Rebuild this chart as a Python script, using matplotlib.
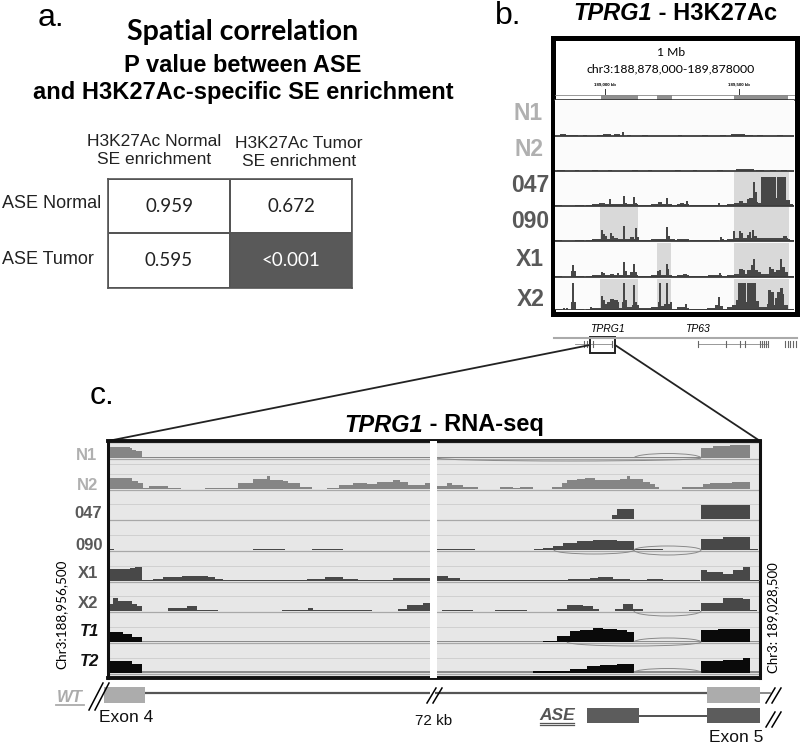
#!/usr/bin/env python3

import matplotlib
matplotlib.use('Agg')
import matplotlib.pyplot as plt
from matplotlib.patches import Arc, Rectangle

plt.rcParams['font.family'] = ['Liberation Sans', 'DejaVu Sans']

W, H = 800, 745

# panel a
row_labels = ['ASE Normal', 'ASE Tumor']
col_labels = ['H3K27Ac Normal\nSE enrichment', 'H3K27Ac Tumor\nSE enrichment']
p_values = [[0.959, 0.672], [0.595, 0.0005]]
p_text = [['0.959', '0.672'], ['0.595', '<0.001']]

# panel b: (position, width, height) of the peaks, window is 239 units wide
b_names = ['N1', 'N2', '047', '090', 'X1', 'X2']
b_base = [136, 171, 206.5, 241.5, 277.5, 310]
b_top = [100, 136.5, 172, 207.5, 243.5, 279]
b_shade = [[], [], [(179, 234)], [(45, 83), (179, 234)], [(102, 116), (179, 234)],
           [(45, 83), (102, 116), (179, 234)]]
b_n1 = [(8, 3, 1.5), (13, 4, 1), (20, 3, 1), (30, 2, 1), (45, 3, 1), (52, 4, 1.5), (62, 3, 1.5),
        (68, 1, 3.5), (74, 2, 1), (90, 3, 1), (125, 2, 1), (150, 3, 1), (168, 3, 1), (183, 8, 1.5),
        (194, 4, 1), (205, 3, 1), (225, 3, 1)]
b_n2 = [(6, 4, 1), (22, 2, 1), (40, 3, 1), (55, 2, 1), (80, 3, 1), (95, 2, 1), (123, 3, 1),
        (140, 2, 1), (165, 3, 1), (190, 10, 1.5), (205, 4, 1), (218, 3, 1), (229, 3, 1)]
b_047 = [(47, 3, 3), (55, 1.5, 7), (60, 3, 2), (69, 1.5, 10), (71, 1, 3), (79, 1.5, 9), (81, 1, 3),
         (105, 2, 4), (112, 1.5, 8), (125, 2, 2.5), (127, 2, 3), (132, 1.5, 5), (164, 1.5, 3),
         (186, 2, 5), (194, 2, 7), (196, 2, 8), (199, 1.5, 24), (200.5, 1.5, 14), (202, 1.5, 4),
         (205, 3, 3), (211, 6, 29), (215, 2, 20), (218, 3, 29), (222, 2, 8), (226, 5, 29),
         (230.5, 2, 5), (233, 2, 6), (236, 2, 2)]
b_090 = [(47, 1.5, 11), (48.5, 1.5, 7), (50, 2, 5), (53, 2, 2), (56, 1.5, 8), (57.5, 1.5, 5),
         (61, 2, 3), (63, 3, 2.5), (69, 1.5, 15), (71, 2, 2), (77, 2, 4), (81, 1.5, 13), (82.5, 1.5, 4),
         (90, 4, 1), (102, 2, 1.5), (112, 1.5, 14), (113.5, 1.5, 5), (118, 2, 2), (147, 3, 1.5),
         (166, 1.5, 4), (167.5, 1.5, 2), (179, 1.5, 10), (185, 1.5, 10), (186.5, 1.5, 8), (188, 2, 3),
         (193, 1.5, 6), (195, 1.5, 9), (198, 1.5, 11), (200, 2, 5), (203, 2, 1.5), (227, 5, 3), (230, 2, 5),
         (233, 2, 2)]
b_x1 = [(17, 1, 6), (18, 1.5, 12), (20, 1.5, 6), (47, 1.5, 5), (48.5, 2, 4), (52, 3, 2), (57, 2, 3),
        (60, 3, 2), (63, 1.5, 4), (66, 2, 2), (69, 1.5, 15), (70.5, 1.5, 6), (73, 3, 2), (77, 2, 5), (79, 1.5, 13),
        (81, 1.5, 5), (103, 1.5, 6), (105, 1.5, 7), (112, 1.5, 13), (113, 1.5, 8), (125, 2, 2),
        (130, 2, 3), (134, 6, 1.5), (160, 8, 2), (165, 1.5, 4), (186, 2, 8), (188, 2, 7), (190, 3, 3),
        (194, 2, 7), (197, 1.5, 12), (199, 1.5, 18), (201, 2, 7), (204, 2, 5), (208, 2, 3), (215, 1.5, 10),
        (217.5, 2, 8), (220, 2, 5), (223, 2, 7), (226, 1.5, 18), (228, 2, 10), (231, 2, 5)]
b_x2 = [(9, 1, 2), (12, 1, 2), (17, 1, 8), (18, 1.5, 27), (20, 1.5, 8), (36, 1, 3), (47, 1.5, 14),
        (48.5, 1.5, 10), (50, 2, 6), (52, 2, 3), (54, 2, 8), (57, 2, 11), (59.5, 1.5, 3), (61, 2, 10), (63, 1.5, 8),
        (65, 2, 2), (68, 1, 8), (69, 1.5, 27), (70.5, 1.5, 10), (72, 2, 3), (78, 1, 5), (79, 1.5, 25),
        (81, 1.5, 8), (82.5, 1.5, 5), (93, 3, 1.5), (104, 1, 8), (105, 1.5, 27), (107, 2, 4), (110, 1, 6),
        (112, 1.5, 27), (114, 2, 6), (116, 1.5, 8), (125, 3, 2.5), (128, 2, 3), (131, 1.5, 6), (162, 2, 5),
        (164, 1.5, 13), (166, 2, 4), (180, 3, 5), (183, 2, 10), (187, 4, 27), (191, 2, 8), (196, 5, 27),
        (202, 2, 9), (205, 3, 3), (213, 1.5, 6), (214.5, 1.5, 20), (217, 2, 18), (220, 2, 5), (222, 2, 12), (224, 2, 18),
        (226.5, 1.5, 22), (228, 1.5, 16), (231, 2, 5)]
b_peaks = [b_n1, b_n2, b_047, b_090, b_x1, b_x2]
# low background seen under tracks 047 to X2
b_low = [(3, 4, 1), (24, 5, 1), (35, 5, 1.2), (44, 8, 2.2), (52, 8, 2.2), (60, 9, 2), (70, 8, 2), (78, 6, 2.5),
         (86, 7, 1.5), (97, 6, 1.2), (103, 8, 2.5), (111, 7, 2.5), (120, 7, 1.2), (128, 7, 2), (140, 6, 1.2),
         (150, 7, 1.2), (158, 7, 1.5), (170, 6, 1.2), (178, 7, 2.5), (186, 8, 3), (194, 9, 3.5), (204, 7, 3),
         (211, 8, 3), (220, 7, 3), (228, 6, 3), (235, 4, 1)]

cyto_bands = [(601, 638), (657, 672), (734, 788)]
tp63_ticks = [698, 726, 740, 745, 760, 762, 764, 766, 768, 785, 788, 790, 793, 796]
tprg1_ticks = [584, 587, 593, 612]

# panel c: (start, end, height) of the coverage steps, window is 652 units wide
c_names = ['N1', 'N2', '047', '090', 'X1', 'X2', 'T1', 'T2']
c_base = [458, 489, 519, 550, 580.5, 611, 642, 672.5]
c_label_y = [456, 485, 514, 545, 573, 603, 632, 662]
c_n1 = [(2, 9, 11), (9, 17, 11.5), (17, 22, 11), (22, 24, 10), (24, 28, 8.5), (28, 34, 7.5), (34, 322, 1),
        (329, 593, 1.5), (593, 605, 10), (605, 622, 12), (622, 642, 13.5), (642, 652, 0.5)]
c_n2 = [(2, 24, 11), (24, 28, 8), (28, 30, 8.5), (30, 35, 6), (35, 41, 1.5), (41, 60, 3), (60, 73, 1.5),
        (97, 130, 1.5), (130, 145, 6), (145, 159, 10.5), (159, 162, 13), (162, 175, 9.5), (175, 180, 8.5),
        (180, 192, 6), (192, 204, 2), (219, 231, 1.5), (231, 245, 4), (245, 259, 6), (259, 269, 5.5),
        (269, 277, 7), (277, 285, 7.5), (285, 292, 9.5), (292, 300, 7.5), (300, 317, 4), (317, 322, 6),
        (329, 339, 3), (339, 344, 6), (344, 355, 4.5), (355, 370, 2.5), (370, 392, 0.5), (392, 405, 2.5),
        (405, 412, 1), (412, 425, 2.5), (425, 444, 0.5), (444, 454, 2.5), (454, 459, 6), (459, 469, 9),
        (469, 477, 10), (477, 487, 11), (487, 499, 9), (499, 512, 9.5), (512, 519, 10), (519, 522, 13),
        (522, 535, 10), (535, 542, 7), (542, 547, 5), (547, 551, 2.5), (574, 595, 2.5), (595, 602, 5),
        (602, 624, 6), (624, 639, 7.5), (639, 642, 7)]
c_047 = [(504, 509, 4.5), (509, 526, 10), (593, 642, 14.5)]
c_090 = [(2, 6, 1), (145, 177, 1.5), (204, 235, 1.5), (329, 367, 0.7), (426, 435, 1), (435, 445, 2.5),
         (445, 455, 4), (455, 469, 7), (469, 485, 9.5), (485, 509, 10), (509, 526, 9), (526, 539, 1),
         (539, 555, 1.5), (593, 615, 11), (615, 642, 13.5), (642, 650, 1)]
c_x1 = [(2, 22, 12), (22, 27, 13), (27, 34, 13.5), (34, 45, 0.5), (45, 55, 2), (55, 74, 3.5), (74, 82, 4.5),
        (82, 100, 5), (100, 107, 3.5), (107, 115, 1.5), (115, 135, 0.5), (135, 169, 1), (169, 199, 0.5),
        (199, 217, 1.5), (217, 235, 3.5), (235, 250, 2), (250, 259, 0.5), (259, 285, 1), (285, 322, 3),
        (329, 340, 4.5), (340, 352, 3), (352, 362, 1), (362, 460, 0.5), (460, 482, 1.5), (482, 490, 3),
        (490, 505, 4), (505, 522, 2), (522, 539, 1), (539, 555, 2), (555, 592, 1), (593, 599, 11),
        (599, 615, 8.5), (615, 625, 7), (625, 635, 11), (635, 642, 14), (642, 652, 0.5)]
c_x2 = [(2, 5, 7), (5, 10, 13), (10, 24, 10), (24, 29, 7.5), (29, 34, 5.5), (60, 79, 3), (79, 89, 5),
        (89, 110, 1.5), (174, 200, 1), (200, 205, 3), (205, 264, 1.5), (290, 299, 2.5), (299, 315, 6),
        (315, 322, 8), (334, 365, 0.7), (387, 419, 0.7), (449, 459, 2), (459, 475, 6), (475, 485, 5),
        (485, 491, 2.5), (507, 515, 2.5), (515, 525, 7), (525, 535, 2.5), (581, 592, 1), (593, 615, 8),
        (615, 635, 13), (635, 642, 12), (642, 649, 1.5)]
c_t1 = [(2, 15, 10), (15, 24, 8.5), (24, 34, 5.5), (435, 449, 1.5), (449, 462, 6), (462, 472, 11),
        (472, 485, 12.5), (485, 495, 14.5), (495, 509, 13.5), (509, 519, 12.5), (519, 526, 10.5),
        (593, 610, 12), (610, 642, 13)]
c_t2 = [(2, 24, 12), (24, 34, 9), (425, 462, 1.5), (462, 479, 4), (479, 492, 7), (492, 509, 7.5),
        (509, 526, 9), (593, 615, 12), (615, 635, 13), (635, 642, 14.5)]
c_tracks = [c_n1, c_n2, c_047, c_090, c_x1, c_x2, c_t1, c_t2]
c_thin = [0, 0, 0, 0, 0, 0, 1.5, 1.5]
# (track, start, end, height), a negative height goes under the baseline
c_arcs = [(0, 526, 593, 4.5), (0, 329, 593, -3), (3, 446, 526, -4), (3, 526, 593, 4), (3, 526, 593, -5),
          (5, 526, 593, -5), (6, 526, 593, 4), (6, 459, 593, -4), (7, 526, 593, 4)]

wt_exons = [(104, 145), (707, 760)]
ase_exons = [(587, 639), (707, 760)]


def px_axes(fig, x0, y0, x1, y1, **kw):
    return fig.add_axes([x0 / W, 1 - y1 / H, (x1 - x0) / W, (y1 - y0) / H], **kw)


fig = plt.figure(figsize=(W / 100, H / 100), dpi=100)

# background layer for text and lines, in pixels
bg = fig.add_axes([0, 0, 1, 1])
bg.set_xlim(0, W)
bg.set_ylim(H, 0)
bg.axis('off')

bg.text(38, 18, 'a.', fontsize=23, va='center')
bg.text(495, 16, 'b.', fontsize=23, va='center')
bg.text(90, 396, 'c.', fontsize=23, va='center')

bg.text(243, 32, 'Spatial correlation', fontsize=20.5, fontweight='bold', family='Lato', ha='center', va='center')
bg.text(243, 65, 'P value between ASE', fontsize=17, fontweight='bold', ha='center', va='center')
bg.text(243, 93, 'and H3K27Ac-specific SE enrichment', fontsize=17, fontweight='bold', ha='center', va='center')

# panel a table
ax_a = px_axes(fig, 108, 179, 352, 288)
cell_colors = [[0 if v > 0.001 else 1 for v in row] for row in p_values]
ax_a.pcolormesh(cell_colors, cmap=matplotlib.colors.ListedColormap(['white', '#595959']),
                edgecolors='#555555', linewidth=1.2)
ax_a.set_ylim(2, 0)
ax_a.set_xticks([])
ax_a.set_yticks([])
for s in ax_a.spines.values():
    s.set_color('#555555')
    s.set_linewidth(1.2)
for i, row in enumerate(p_text):
    for j, t in enumerate(row):
        ax_a.text(j + 0.5, i + 0.5, t, ha='center', va='center', fontsize=13.5, family='Lato',
                  color='white' if p_values[i][j] < 0.001 else '#222222')
bg.text(2, 203, row_labels[0], fontsize=13, va='center', color='#222222')
bg.text(2, 259, row_labels[1], fontsize=13, va='center', color='#222222')
bg.text(154, 150, col_labels[0], fontsize=12.5, ha='center', va='center', color='#222222', linespacing=1.25)
bg.text(299, 153, col_labels[1], fontsize=12.5, ha='center', va='center', color='#222222', linespacing=1.25)

# panel b
bg.text(652, 14, 'TPRG1', fontsize=17, fontweight='bold', fontstyle='italic', ha='right', va='center')
bg.text(652, 14, ' - H3K27Ac', fontsize=17, fontweight='bold', ha='left', va='center')

bg.add_patch(Rectangle((552.5, 37.5), 244, 276, fc='white', ec='black', lw=3.6, zorder=3))
bg.text(671, 53, '1 Mb', fontsize=8.7, family='Lato', ha='center', va='center', zorder=4)
bg.text(671, 69, 'chr3:188,878,000-189,878000', fontsize=8.8, family='Lato', ha='center', va='center', zorder=4)
for x, t in [(605, '189,000 kb'), (739, '189,500 kb')]:
    bg.text(x, 84, t, fontsize=3.2, fontweight='bold', ha='center', va='center', zorder=4)
    bg.plot([x, x], [89, 94], color='#333333', lw=0.7, zorder=4)
for x0, x1 in cyto_bands:
    bg.add_patch(Rectangle((x0, 94.5), x1 - x0, 5, fc='#8f8f8f', ec='none', zorder=4))
bg.plot([555, 794], [94.5, 94.5], color='#888888', lw=0.6, zorder=4)
bg.plot([555, 794], [100, 100], color='#333333', lw=1.2, zorder=4)

ax_b = px_axes(fig, 555, 100, 794, 310.5)
ax_b.set_xlim(0, 239)
ax_b.set_ylim(310.5, 100)
ax_b.set_facecolor('#fbfbfb')
ax_b.set_xticks([])
ax_b.set_yticks([])
for s in ax_b.spines.values():
    s.set_visible(False)
for i, (base, top, shade, peaks) in enumerate(zip(b_base, b_top, b_shade, b_peaks)):
    for x0, x1 in shade:
        ax_b.add_patch(Rectangle((x0, top), x1 - x0, base - top, fc='#d9d9d9', ec='none'))
    all_peaks = peaks + b_low if i > 1 else peaks
    ax_b.bar([p[0] for p in all_peaks], [-p[2] for p in all_peaks], width=[p[1] * 1.8 for p in all_peaks],
             bottom=base, color='#474747', lw=0, zorder=2)
    ax_b.axhline(base, color='#3c3c3c', lw=1.3, zorder=3)

b_label_y = [114, 150, 185, 222, 259, 300]
b_label_x = [543, 543, 549, 549, 544, 545]
b_label_c = ['#b0b0b0', '#b0b0b0', '#595959', '#595959', '#595959', '#595959']
for name, x, y, c in zip(b_names, b_label_x, b_label_y, b_label_c):
    bg.text(x, y, name, fontsize=16.5, fontweight='bold', color=c, ha='right', va='center')

# gene track under panel b
bg.plot([554, 797], [338, 338], color='#aaaaaa', lw=1.5)
bg.text(607, 329, 'TPRG1', fontsize=7.5, fontstyle='italic', ha='center', va='center')
bg.text(697, 329, 'TP63', fontsize=7.5, fontstyle='italic', ha='center', va='center')
bg.plot([575, 612], [344, 344], color='#888888', lw=0.6)
bg.plot([698, 768], [344, 344], color='#888888', lw=0.6)
for x in tprg1_ticks + tp63_ticks:
    bg.plot([x, x], [341, 347], color='#666666', lw=0.8)
bg.add_patch(Rectangle((590, 337), 25, 16, fc='none', ec='#222222', lw=1.4))
bg.plot([590, 108], [345, 441], color='#222222', lw=1.3)
bg.plot([615, 760], [345, 441], color='#222222', lw=1.3)

# panel c
bg.text(423, 425, 'TPRG1', fontsize=17, fontweight='bold', fontstyle='italic', ha='right', va='center')
bg.text(423, 425, ' - RNA-seq', fontsize=17, fontweight='bold', ha='left', va='center')

ax_c = px_axes(fig, 108, 441, 760, 678)
ax_c.set_xlim(0, 652)
ax_c.set_ylim(678, 441)
ax_c.set_facecolor('#e7e7e7')
ax_c.set_xticks([])
ax_c.set_yticks([])
for s in ax_c.spines.values():
    s.set_color('#111111')
    s.set_linewidth(2.2)
ax_c.spines['top'].set_linewidth(2.8)
ax_c.spines['bottom'].set_linewidth(2.8)
colors_c = ['#858585', '#858585', '#484848', '#484848', '#484848', '#484848', '#0a0a0a', '#0a0a0a']
for i, (base, segs, c) in enumerate(zip(c_base, c_tracks, colors_c)):
    ax_c.axhline(base - 15, color='#d0d0d0', lw=0.7, zorder=1)
    ax_c.axhline(base + 1, color='#a8a8a8', lw=0.9, zorder=1)
    if c_thin[i]:
        ax_c.bar(0, -c_thin[i], width=652, bottom=base, align='edge', color='#8c8c8c', lw=0, zorder=2)
    ax_c.bar([s[0] for s in segs], [-s[2] for s in segs], width=[s[1] - s[0] for s in segs],
             bottom=base, align='edge', color=c, lw=0, zorder=3)
ax_c.axhline(464, color='#cfcfcf', lw=0.7, zorder=1)
for trk, x0, x1, h in c_arcs:
    t1, t2 = (180, 360) if h > 0 else (0, 180)
    ax_c.add_patch(Arc(((x0 + x1) / 2, c_base[trk]), x1 - x0, 2 * abs(h), theta1=t1, theta2=t2,
                       color='#8a8a8a', lw=0.7, zorder=4))
# white break in the middle of the window
ax_c.axvspan(322, 329, color='white', lw=0, zorder=5)

c_label_x = [97, 98, 102, 103, 98, 98, 99, 99]
c_label_c = ['#b0b0b0', '#b0b0b0', '#595959', '#595959', '#595959', '#595959', '#111111', '#111111']
for i, name in enumerate(c_names):
    bg.text(c_label_x[i], c_label_y[i], name, fontsize=12, fontweight='bold', color=c_label_c[i],
            ha='right', va='center', fontstyle='italic' if name.startswith('T') else 'normal')

bg.text(62, 614, 'Chr3:188,956,500', fontsize=9.7, rotation=90, family='Lato', ha='center', va='center')
bg.text(773, 618, 'Chr3: 189,028,500', fontsize=9.5, rotation=90, family='Lato', ha='center', va='center')

# exon diagram
bg.plot([145, 707], [693, 693], color='#555555', lw=1.6)
bg.plot([639, 707], [716, 716], color='#333333', lw=1.2)
bg.plot([760, 770], [693, 693], color='#777777', lw=1.2)
for x0, x1 in wt_exons:
    bg.add_patch(Rectangle((x0, 687), x1 - x0, 16, fc='#acacac', ec='none', zorder=2))
for x0, x1 in ase_exons:
    bg.add_patch(Rectangle((x0, 708), x1 - x0, 15, fc='#5c5c5c', ec='none', zorder=2))
bg.plot([89, 103], [710, 683], color='black', lw=1.1)
bg.plot([95, 109], [710, 683], color='black', lw=1.1)
for x, y in [(427, 703), (433, 703), (766, 703), (772, 703), (766, 727), (772, 727)]:
    bg.plot([x, x + 9], [y, y - 15], color='black', lw=1.1, zorder=3)
bg.add_patch(Rectangle((430, 690), 5, 8, fc='white', ec='none', zorder=2))

bg.text(70, 698, 'WT', fontsize=12, fontweight='bold', fontstyle='italic', color='#ababab', ha='center', va='center')
bg.plot([56, 84], [705, 705], color='#ababab', lw=1.3)
bg.text(557, 715, 'ASE', fontsize=12.5, fontweight='bold', fontstyle='italic', color='#555555', ha='center', va='center')
bg.plot([540, 574], [723, 723], color='#555555', lw=0.9)
bg.plot([540, 574], [725, 725], color='#555555', lw=0.9)
bg.text(126, 718, 'Exon 4', fontsize=12.5, ha='center', va='center', color='#111111')
bg.text(434, 721, '72 kb', fontsize=11, ha='center', va='center', color='#111111')
bg.text(736, 738, 'Exon 5', fontsize=12.5, ha='center', va='center', color='#111111')

fig.savefig('out.png', dpi=100)
